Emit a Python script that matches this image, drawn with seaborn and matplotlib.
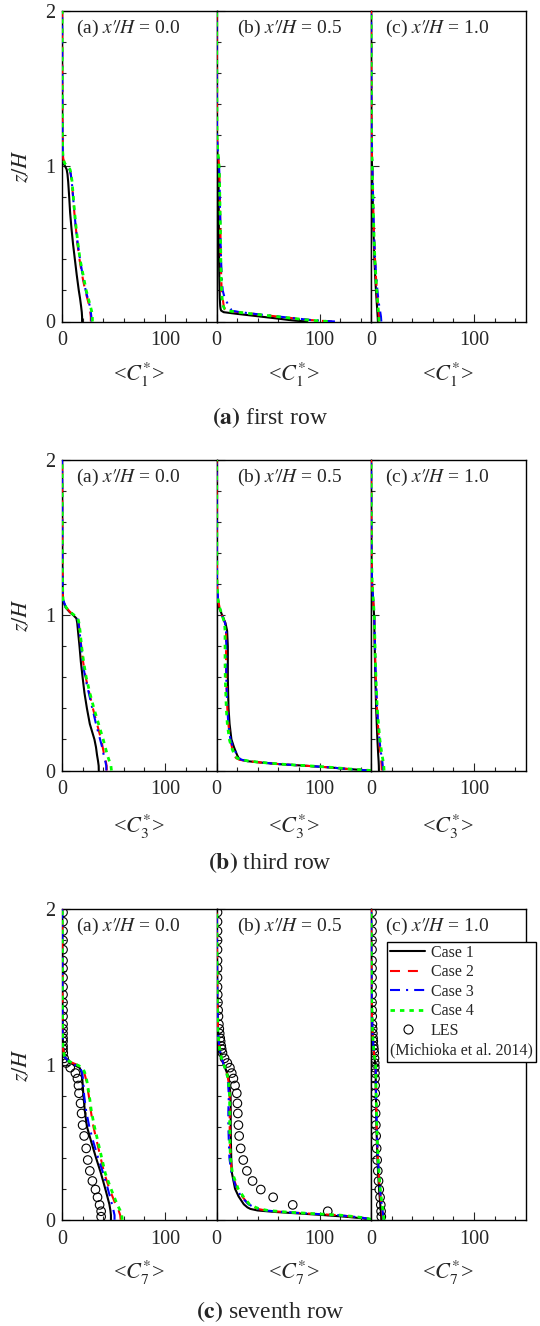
import numpy as np
import pandas as pd
import matplotlib
matplotlib.use("Agg")
import matplotlib.pyplot as plt
import seaborn as sns
from matplotlib.lines import Line2D
from matplotlib.ticker import MultipleLocator, FixedLocator

sns.set_style("ticks")
plt.rcParams.update({
    "font.family": ["Liberation Serif", "DejaVu Serif"],
    "mathtext.fontset": "stix",
    "axes.linewidth": 1.0,
    "axes.edgecolor": "black",
    "xtick.direction": "in",
    "ytick.direction": "in",
})

# ---------------- data ----------------
# vertical grids (z/H)
z_a = [0, 0.03, 0.06, 0.1, 0.15, 0.2, 0.3, 0.4, 0.5, 0.6, 0.7, 0.8, 0.9, 0.95, 0.98,
       1.0, 1.02, 1.05, 1.1, 1.2, 1.4, 1.7, 2.0]
z_b = [0, 0.005, 0.01, 0.02, 0.03, 0.04, 0.05, 0.06, 0.07, 0.08, 0.1, 0.15, 0.2, 0.3,
       0.4, 0.5, 0.6, 0.7, 0.8, 0.9, 0.95, 1.0, 1.05, 1.1, 1.2, 1.4, 1.7, 2.0]
z_les = [0.02, 0.055, 0.096, 0.145, 0.195, 0.25, 0.315, 0.385, 0.46, 0.54, 0.61, 0.685,
         0.75, 0.815, 0.865, 0.91, 0.945, 0.98, 1.01, 1.04, 1.075, 1.10, 1.12, 1.15,
         1.17, 1.20, 1.23, 1.26, 1.31, 1.35, 1.40, 1.45, 1.50, 1.56, 1.62, 1.67, 1.74,
         1.80, 1.86, 1.92, 1.98]

# first row, x'/H = 0.0
r1a_case1 = [19.5, 19.5, 19.2, 18.5, 17.5, 16.3, 14.3, 12.5, 10.7, 9.2, 7.9, 7.0, 6.0, 5.3, 4.5, 3.0, 1.5, 0.7, 0.4, 0.3, 0.2, 0.1, 0.1]
r1a_case2 = [28, 28, 27.5, 26.5, 24.5, 22.5, 19.5, 17, 15, 13.5, 12, 10.8, 9.5, 8.5, 7.5, 5, 2.5, 1.2, 0.6, 0.4, 0.3, 0.2, 0.1]
r1a_case3 = [28.5, 28.5, 28, 27, 25, 23, 20, 17.5, 15.3, 13.5, 12, 10.8, 9.5, 8.5, 7.3, 4.5, 2.3, 1.1, 0.6, 0.4, 0.3, 0.2, 0.1]
r1a_case4 = [29.5, 29.5, 29, 27.5, 25.5, 23.5, 20.5, 17.5, 15.5, 13.8, 12.3, 11, 9.8, 8.8, 7.8, 5, 2.5, 1.2, 0.6, 0.4, 0.3, 0.2, 0.1]
# first row, x'/H = 0.5
r1b_case1 = [88, 77, 70, 58, 45, 32, 19, 7, 4.5, 4, 3.6, 3.2, 3, 2.7, 2.5, 2.4, 2.3, 2.2, 2.1, 2, 1.9, 1.7, 1.2, 0.7, 0.4, 0.3, 0.2, 0.1]
r1b_case2 = [112, 100, 90, 76, 62, 48, 35, 22, 10, 8, 7, 6, 5, 4.5, 4.2, 4, 3.8, 3.5, 3.2, 3, 2.8, 2.5, 2, 1.2, 0.5, 0.3, 0.2, 0.1]
r1b_case3 = [115, 102, 91, 77, 63, 49, 36, 23, 14, 14, 12, 8, 6, 5, 4.4, 4, 3.8, 3.5, 3.2, 3, 2.8, 2.5, 2, 1.2, 0.5, 0.3, 0.2, 0.1]
r1b_case4 = [108, 98, 88, 75, 61, 47, 34, 21, 10, 8, 6.5, 5.5, 5, 4.5, 4.2, 4, 3.8, 3.5, 3.2, 3, 2.8, 2.5, 2, 1.2, 0.5, 0.3, 0.2, 0.1]
# first row, x'/H = 1.0
r1c_case1 = [6.7, 6.5, 6.2, 5.8, 5.3, 4.8, 4, 3.3, 2.8, 2.3, 2, 1.6, 1.3, 1.2, 1.1, 1.0, 0.9, 0.8, 0.6, 0.4, 0.3, 0.2, 0.1]
r1c_case2 = [8, 7.8, 7.5, 7, 6.3, 5.7, 4.7, 3.9, 3.2, 2.7, 2.3, 1.9, 1.5, 1.4, 1.3, 1.2, 1.1, 1, 0.8, 0.5, 0.3, 0.2, 0.1]
r1c_case3 = [10, 9.7, 9, 8, 7, 6.2, 5, 4, 3.3, 2.8, 2.4, 2, 1.6, 1.5, 1.4, 1.3, 1.2, 1.1, 0.9, 0.5, 0.3, 0.2, 0.1]
r1c_case4 = [7.8, 7.6, 7.3, 6.8, 6.2, 5.6, 4.6, 3.8, 3.2, 2.7, 2.3, 1.9, 1.5, 1.4, 1.3, 1.2, 1.1, 1, 0.8, 0.5, 0.3, 0.2, 0.1]

# third row
r2a_case1 = [35.7, 35.6, 35, 34, 33, 31.5, 27, 24.2, 21.8, 20, 18.3, 17, 15.5, 14.8, 14, 11, 7.5, 3.5, 0.8, 0.5, 0.3, 0.2, 0.1]
r2a_case2 = [43.5, 43.3, 42.5, 41, 39.5, 38, 34, 30, 26.5, 23, 20.5, 18.7, 17, 16.3, 15, 12, 8, 4, 1, 0.5, 0.3, 0.2, 0.1]
r2a_case3 = [43, 43, 42, 40.5, 39, 37, 33, 29.5, 26, 22.5, 20, 18.5, 17, 16, 15, 12, 8, 4, 1, 0.5, 0.3, 0.2, 0.1]
r2a_case4 = [48, 47.5, 46, 44, 42, 40, 35.5, 31, 27, 23.5, 21, 19, 17.5, 16.5, 15.5, 12, 8, 4, 1, 0.5, 0.3, 0.2, 0.1]
r2b_case1 = [148, 138, 127, 110, 88, 63, 45, 30, 23, 21.5, 20, 17, 14.5, 12.7, 11.7, 11.3, 11, 11, 11, 10.3, 8.7, 5.5, 2.5, 1.2, 0.4, 0.3, 0.2, 0.1]
r2b_case2 = [148, 138, 127, 110, 88, 63, 45, 30, 22, 19, 17, 15, 13.5, 11.5, 10.5, 10, 9.5, 9.3, 9.3, 9.3, 8.3, 5.5, 3, 1.5, 0.5, 0.3, 0.2, 0.1]
r2b_case3 = [148, 138, 127, 110, 88, 63, 46, 31, 24, 22, 20, 16, 13.5, 11.5, 10.5, 10, 9.5, 9.5, 9.5, 9.3, 8.3, 5.5, 3, 1.5, 0.5, 0.3, 0.2, 0.1]
r2b_case4 = [150, 140, 129, 112, 90, 65, 47, 32, 24, 20, 17.5, 14.5, 12.5, 10.5, 9.5, 9, 8.5, 8.3, 8.3, 8.3, 7.8, 5.5, 3, 1.5, 0.5, 0.3, 0.2, 0.1]
r2c_case1 = [7.7, 7.6, 7.4, 7, 6.6, 6.2, 5.6, 5, 4.6, 4.2, 3.9, 3.6, 3.3, 3.2, 3.1, 3.0, 2.8, 2.5, 2, 1, 0.4, 0.2, 0.1]
r2c_case2 = [10.5, 10.3, 10, 9.3, 8.5, 7.8, 6.7, 5.8, 5.1, 4.6, 4.2, 3.8, 3.5, 3.3, 3.2, 3.1, 2.9, 2.6, 2.1, 1.1, 0.4, 0.2, 0.1]
r2c_case3 = [11.7, 11.4, 11, 10, 9, 8.2, 7, 6, 5.3, 4.7, 4.3, 3.9, 3.5, 3.3, 3.2, 3.1, 2.9, 2.6, 2.1, 1.1, 0.4, 0.2, 0.1]
r2c_case4 = [12.7, 12.4, 11.8, 10.7, 9.6, 8.6, 7.2, 6.1, 5.4, 4.8, 4.3, 3.9, 3.6, 3.4, 3.3, 3.2, 3.0, 2.7, 2.2, 1.2, 0.4, 0.2, 0.1]

# seventh row
r3a_case1 = [47.5, 47.5, 47, 46, 44, 42, 37.8, 33, 28.5, 24.2, 22.2, 20.8, 19.8, 19, 17, 11, 6, 2.5, 1, 0.6, 0.4, 0.3, 0.2]
r3a_case2 = [57, 56.5, 55, 52, 49, 46, 41, 37.5, 34, 30.5, 28, 26, 23.5, 21.5, 19.5, 14, 7, 2.5, 1, 0.6, 0.4, 0.3, 0.2]
r3a_case3 = [51, 51, 50, 48.5, 46.5, 44.5, 40, 35, 30.5, 26.5, 23.5, 21.5, 20.5, 19.5, 17.5, 12, 6.5, 2.5, 1, 0.6, 0.4, 0.3, 0.2]
r3a_case4 = [58.5, 58, 56.5, 53.5, 50.5, 47.5, 42, 38.5, 35, 31.5, 28.5, 26.5, 24, 22, 20, 14, 7, 2.5, 1, 0.6, 0.4, 0.3, 0.2]
r3b_case1 = [150, 146, 141, 125, 105, 82, 58, 40, 33, 30, 26.5, 21.5, 18, 15, 14.3, 14, 13.8, 13.8, 13.7, 12, 10, 7, 4.5, 3, 1.5, 0.8, 0.5, 0.3]
r3b_case2 = [150, 148, 145, 133, 118, 90, 65, 48, 40, 37, 31, 25, 20, 15, 13.5, 13, 12.8, 12.8, 12.7, 11.5, 9.8, 7, 4.5, 3, 1.5, 0.8, 0.5, 0.3]
r3b_case3 = [150, 148, 145, 133, 118, 90, 65, 48, 40, 37, 31, 24, 19.5, 14.5, 12.5, 12, 11.5, 11.5, 12, 11, 9.5, 7, 4.5, 3, 1.5, 0.8, 0.5, 0.3]
r3b_case4 = [150, 149, 146, 135, 120, 93, 68, 50, 42, 38, 32, 26, 21, 15.5, 13.5, 13, 12.8, 12.8, 12.7, 11.5, 9.8, 7, 4.5, 3, 1.5, 0.8, 0.5, 0.3]
r3c_case1 = [10, 9.8, 9.5, 9, 8.4, 7.8, 6.9, 6.2, 5.7, 5.3, 5, 4.8, 4.6, 4.5, 4.4, 4.2, 3.8, 3.2, 2.4, 1.4, 0.6, 0.3, 0.2]
r3c_case2 = [11.5, 11.2, 10.8, 10, 9.2, 8.5, 7.4, 6.6, 6.0, 5.5, 5.2, 4.9, 4.7, 4.6, 4.5, 4.3, 3.9, 3.3, 2.5, 1.5, 0.6, 0.3, 0.2]
r3c_case3 = [12, 11.7, 11.2, 10.4, 9.5, 8.7, 7.6, 6.7, 6.1, 5.6, 5.2, 4.9, 4.7, 4.6, 4.5, 4.3, 3.9, 3.3, 2.5, 1.5, 0.6, 0.3, 0.2]
r3c_case4 = [12.5, 12.1, 11.6, 10.8, 9.8, 9, 7.8, 6.9, 6.2, 5.7, 5.3, 5, 4.8, 4.7, 4.6, 4.4, 4.0, 3.4, 2.6, 1.6, 0.7, 0.3, 0.2]

# LES (Michioka et al. 2014), seventh row
les_a = [38, 38, 36.5, 34.5, 32.5, 29.5, 27, 25, 23.5, 21.5, 20, 19, 18, 16.5, 16, 15, 13, 8,
         4, 2, 1.2, 1, 1, 1, 1, 1, 1, 1, 1, 1, 1, 1, 1, 1, 1, 1, 1, 1, 1, 1, 1]
les_b = [190, 108, 74, 55, 43, 35, 29.5, 26, 23.5, 22, 21.3, 20.7, 20.3, 19.7, 18, 16.4, 14.8, 13,
         10.5, 7.8, 5.8, 5.0, 4.6, 4.0, 3.6, 3.1, 2.7, 2.3, 1.9, 1.6, 1.4, 1.2, 1.0, 1, 1, 1, 1, 1, 1, 1, 1]
les_c = [10, 9.8, 9.5, 8.8, 8, 7.3, 6.6, 6.0, 5.5, 5.0, 4.7, 4.5, 4.3, 4.1, 4.0, 3.9, 3.8, 3.7,
         3.6, 3.4, 3.1, 2.8, 2.5, 2.2, 2.0, 1.8, 1.6, 1.4, 1.2, 1.1, 1, 1, 1, 1, 1, 1, 1, 1, 1, 1, 1]

case_labels = ["Case 1", "Case 2", "Case 3", "Case 4"]
panel_titles = ["(a) $x\u2032\\!/H$ = 0.0", "(b) $x\u2032\\!/H$ = 0.5", "(c) $x\u2032\\!/H$ = 1.0"]
row_captions = [r"$\mathbf{(a)}$ first row", r"$\mathbf{(b)}$ third row", r"$\mathbf{(c)}$ seventh row"]
row_index = ["1", "3", "7"]

rows = [
    [(z_a, [r1a_case1, r1a_case2, r1a_case3, r1a_case4]),
     (z_b, [r1b_case1, r1b_case2, r1b_case3, r1b_case4]),
     (z_a, [r1c_case1, r1c_case2, r1c_case3, r1c_case4])],
    [(z_a, [r2a_case1, r2a_case2, r2a_case3, r2a_case4]),
     (z_b, [r2b_case1, r2b_case2, r2b_case3, r2b_case4]),
     (z_a, [r2c_case1, r2c_case2, r2c_case3, r2c_case4])],
    [(z_a, [r3a_case1, r3a_case2, r3a_case3, r3a_case4]),
     (z_b, [r3b_case1, r3b_case2, r3b_case3, r3b_case4]),
     (z_a, [r3c_case1, r3c_case2, r3c_case3, r3c_case4])],
]
les_rows = [None, None, [les_a, les_b, les_c]]

# ---------------- styles ----------------
case_styles = [
    dict(color="black", linestyle="-", linewidth=1.5),
    dict(color="#ff0000", linestyle=(0, (4.8, 3.8)), linewidth=1.5),
    dict(color="#0000ff", linestyle=(0, (4.8, 2.9, 1.0, 2.9)), linewidth=1.5),
    dict(color="#00ff00", linestyle=(0, (1.6, 1.8)), linewidth=2.0),
]

W, H = 540, 1326
fig = plt.figure(figsize=(W / 100, H / 100), dpi=100)

lefts = [62, 216.5, 371]
pw = 154.5
row_tops = [11, 460, 909.3]
ph = 310.5
xlabel_y = [375, 827, 1273]
caption_y = [418, 863, 1312]
title_dx = [14, 20.5, 14]

for r in range(3):
    for p in range(3):
        ax = fig.add_axes([lefts[p] / W, 1 - (row_tops[r] + ph) / H, pw / W, ph / H])
        zz, cases = rows[r][p]
        for k in range(4):
            df = pd.DataFrame({"c": cases[k], "z": zz})
            sns.lineplot(data=df, x="c", y="z", orient="y", estimator=None, ax=ax,
                         zorder=3, **case_styles[k])
        if les_rows[r] is not None:
            dfl = pd.DataFrame({"c": les_rows[r][p], "z": z_les})
            sns.scatterplot(data=dfl, x="c", y="z", ax=ax, marker="o", s=38,
                            facecolors="none", edgecolor="black", linewidth=0.8, zorder=2.8)
        ax.set_xlim(0, 150)
        ax.set_ylim(0, 2)
        ax.xaxis.set_major_locator(FixedLocator([0, 100]))
        ax.xaxis.set_minor_locator(MultipleLocator(20))
        ax.yaxis.set_major_locator(MultipleLocator(1))
        ax.yaxis.set_minor_locator(MultipleLocator(0.2))
        ax.tick_params(which="both", direction="in", top=False, right=False, width=0.8)
        ax.tick_params(which="major", length=6, labelsize=14.5, pad=7)
        ax.tick_params(which="minor", length=3)
        ax.tick_params(axis="y", which="major", pad=5)
        if p > 0:
            ax.tick_params(labelleft=False)
        ax.set_ylabel("")
        ax.set_xlabel(r"<$C^{*}_{%s}$>" % row_index[r], fontsize=16)
        ax.xaxis.set_label_coords(0.5, -(xlabel_y[r] - row_tops[r] - ph) / ph)
        ax.xaxis.label.set_verticalalignment("center")
        if p == 0:
            ax.set_ylabel(r"$z/H$", fontsize=16)
            ax.yaxis.set_label_coords(-(62 - 22) / pw, 0.5)
            ax.yaxis.label.set_verticalalignment("center")
        for sp in ax.spines.values():
            sp.set_color("black")
            sp.set_linewidth(1.0)
        ax.text(title_dx[p] / pw, 1 - 17 / ph, panel_titles[p], transform=ax.transAxes,
                ha="left", va="center", fontsize=14)
        if ax.get_legend() is not None:
            ax.get_legend().remove()
    fig.text(0.5, 1 - caption_y[r] / H, row_captions[r], ha="center", va="center", fontsize=17)

# legend in the seventh-row, third panel
handles = [Line2D([], [], **st) for st in case_styles]
handles.append(Line2D([], [], marker="o", linestyle="none", markerfacecolor="none",
                      markeredgecolor="black", markersize=6.5, markeredgewidth=0.8))
handles.append(Line2D([], [], linestyle="none"))
labels = case_labels + ["LES", "(Michioka et al. 2014)"]
leg = fig.legend(handles, labels, loc="upper right", bbox_to_anchor=(536 / W, 1 - 941.7 / H),
                 bbox_transform=fig.transFigure, frameon=True, fancybox=False,
                 edgecolor="black", framealpha=1, fontsize=11.5, handlelength=2.2,
                 handletextpad=0.35, borderpad=0.2, labelspacing=0.22, borderaxespad=0)
leg.get_frame().set_linewidth(1.0)
try:
    col = leg._legend_handle_box.get_children()[0]
    last = col.get_children()[-1]
    last._children = [last.get_children()[1]]
except Exception:
    pass

fig.savefig("out.png", dpi=100)
